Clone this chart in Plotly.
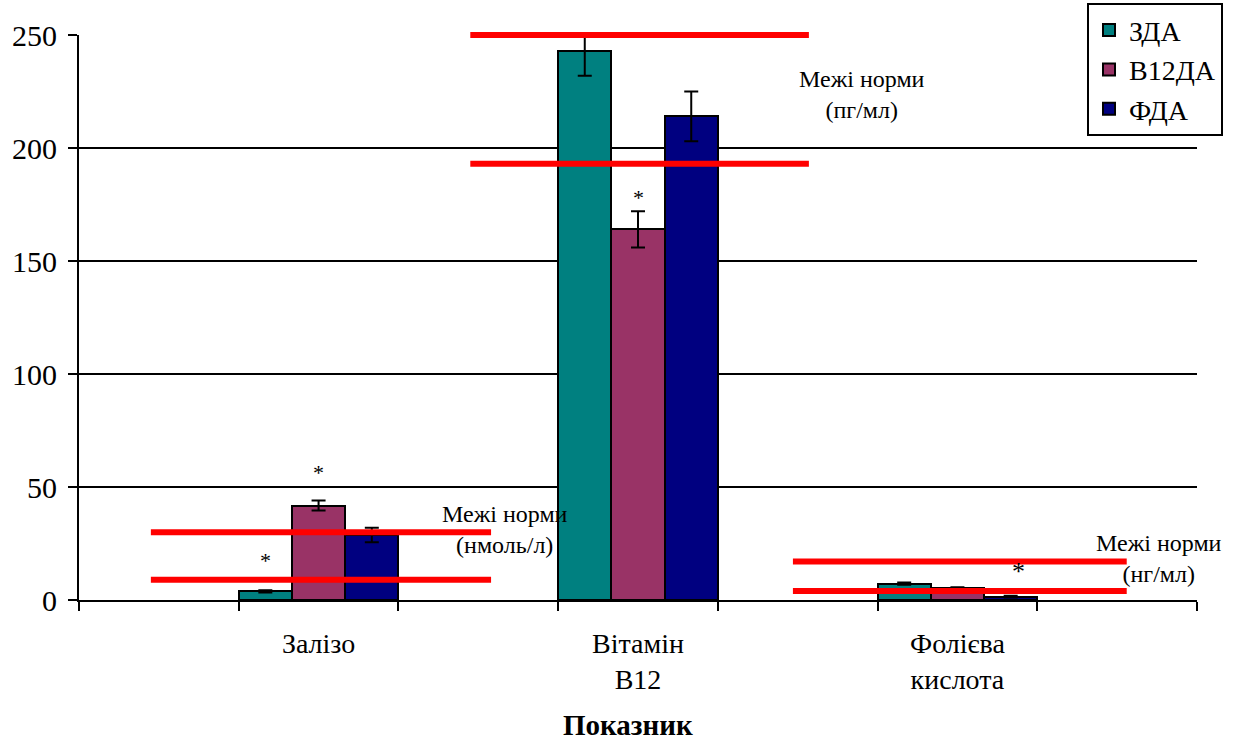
import plotly.graph_objects as go

categories = ["Залізо", "Вітамін<br>B12", "Фолієва<br>кислота"]
cat_pos = [1, 3, 5]
series_names = ["ЗДА", "В12ДА", "ФДА"]
zda = [3.8, 243, 7.2]
zda_err = [0.5, 11, 0.5]
b12da = [41.8, 164, 5.2]
b12da_err = [2.2, 8, 0.4]
fda = [28.8, 214, 1.5]
fda_err = [3.2, 11, 0.4]
colors = ["#008080", "#993366", "#000080"]

norm_low = [9, 193, 4]
norm_high = [30, 250, 17]
norm_units = ["(нмоль/л)", "(пг/мл)", "(нг/мл)"]
y_ticks = [0, 50, 100, 150, 200, 250]

X_RANGE = [-0.5, 6.5]
Y_RANGE = [0, 250]
FONT = "Liberation Serif"


def px(x):
    return (x - X_RANGE[0]) / (X_RANGE[1] - X_RANGE[0])


def py(y):
    return (y - Y_RANGE[0]) / (Y_RANGE[1] - Y_RANGE[0])


fig = go.Figure()
vals = [zda, b12da, fda]
errs = [zda_err, b12da_err, fda_err]
for i in range(3):
    fig.add_trace(go.Bar(
        x=cat_pos, y=vals[i], name=series_names[i],
        width=1/3, offset=-0.5 + i/3,
        marker=dict(color=colors[i], line=dict(color="black", width=2)),
        error_y=dict(type="data", array=errs[i], visible=True,
                     color="black", thickness=2, width=7),
    ))

# norm-limit red lines (paper refs so the top line is not clipped)
line_x = [(-0.05, 2.08), (1.95, 4.07), (3.97, 6.06)]
for k in range(3):
    x0, x1 = line_x[k]
    for v in (norm_low[k], norm_high[k]):
        fig.add_shape(type="line", xref="paper", yref="paper",
                      x0=px(x0), x1=px(x1), y0=py(v), y1=py(v),
                      line=dict(color="#ff0000", width=6), layer="above")

ann_pos = [(2.17, 31.2), (4.4, 223.7), (6.26, 18.4)]
for k in range(3):
    fig.add_annotation(x=ann_pos[k][0], y=ann_pos[k][1], xref="x", yref="y",
                       text="Межі норми<br>" + norm_units[k], showarrow=False,
                       font=dict(family=FONT, size=24, color="black"), align="center")

stars = [(1 - 1/3, 17.7, 22), (1, 56.2, 22), (3, 178, 22), (5.38, 12.4, 26)]
for sx, sy, ss in stars:
    fig.add_annotation(x=sx, y=sy, xref="x", yref="y", text="*", showarrow=False,
                       font=dict(family=FONT, size=ss, color="black"))

fig.add_annotation(x=0.491, y=-0.221, xref="paper", yref="paper",
                   xanchor="center", yanchor="middle",
                   text="<b>Показник</b>", showarrow=False,
                   font=dict(family=FONT, size=29, color="black"))

fig.update_layout(
    width=1239, height=740,
    margin=dict(l=79, r=42, t=35, b=140, autoexpand=False),
    plot_bgcolor="white", paper_bgcolor="white",
    barmode="overlay", bargap=0,
    font=dict(family=FONT, size=27, color="black"),
    showlegend=True,
    legend=dict(x=0.9016, y=1.056, xanchor="left", yanchor="top",
                bordercolor="black", borderwidth=2, bgcolor="white",
                font=dict(family=FONT, size=28, color="black"),
                itemwidth=30, tracegroupgap=0),
    xaxis=dict(range=X_RANGE, tickvals=cat_pos, ticktext=categories,
               ticks="", showgrid=False, zeroline=False,
               showline=True, linecolor="black", linewidth=2,
               tickfont=dict(family=FONT, size=28), ticklabelstandoff=17,
               minor=dict(tick0=-0.5, dtick=1, ticks="outside", ticklen=9,
                          tickwidth=2, tickcolor="black", showgrid=False)),
    yaxis=dict(range=Y_RANGE, tickvals=y_ticks, ticks="outside", ticklen=9,
               tickwidth=2, tickcolor="black", ticklabelstandoff=5,
               showgrid=True, gridcolor="black", gridwidth=2,
               zeroline=False, showline=True, linecolor="black", linewidth=2,
               tickfont=dict(family=FONT, size=30)),
)

fig.write_html("out.html", config={"displayModeBar": False},
               post_script="document.body.style.margin='0';")
